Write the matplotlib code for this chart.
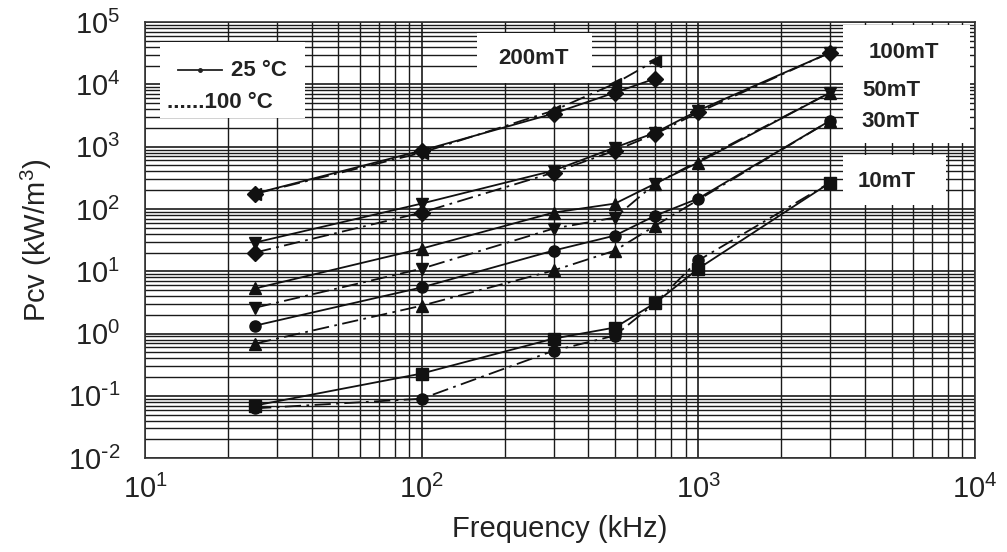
import matplotlib
matplotlib.use("Agg")
import matplotlib.pyplot as plt
from matplotlib.patches import Rectangle
from matplotlib.lines import Line2D
from matplotlib.ticker import FuncFormatter
import numpy as np

plt.rcParams['font.family'] = ['Liberation Sans', 'DejaVu Sans']
plt.rcParams['mathtext.default'] = 'regular'
plt.rcParams['axes.unicode_minus'] = False

# ---- data (frequency kHz, core loss kW/m^3) ----
freq_all = [25, 100, 300, 500, 700, 1000, 3000]
freq_200 = [25, 100, 300, 500, 700]
freq_hot = [25, 100, 300, 500, 700, 3000]

pcv_200_25 = [177, 865, 3400, 7400, 12400]
pcv_200_100 = [175, 800, 3800, 10300, 24100]

pcv_100_25 = [28.9, 122, 413, 968, 1680, 3800, 32400]
pcv_100_100 = [20, 87.5, 384, 865, 1600, 3540, 32400]

pcv_50_25 = [5.3, 23.1, 87.5, 122, 256, 556, 7380]
pcv_50_100 = [2.6, 11, 48.5, 72.8, 256, 7380]

pcv_30_25 = [1.34, 5.5, 21.5, 37.4, 78.3, 147, 2620]
pcv_30_100 = [0.69, 2.8, 10.3, 21.5, 54, 2620]

pcv_10_25 = [0.07, 0.228, 0.83, 1.25, 3.1, 11, 265]
pcv_10_100 = [0.063, 0.09, 0.53, 0.93, 3.1, 14.9, 265]

x_ticks = [10, 100, 1000, 10000]
y_ticks = [1e-2, 1e-1, 1e0, 1e1, 1e2, 1e3, 1e4, 1e5]


def pow_label(v, pos):
    e = int(round(np.log10(v)))
    if e < 0:
        return r'$10^{\text{-}%d}$' % (-e)
    return r'$10^{%d}$' % e


fig = plt.figure(figsize=(10.07, 5.52), dpi=100)
ax = fig.add_axes([0.144, 0.170, 0.824, 0.790])
ax.set_xscale('log')
ax.set_yscale('log')
ax.set_xlim(10, 10000)
ax.set_ylim(1e-2, 1e5)
ax.set_xticks(x_ticks)
ax.set_yticks(y_ticks)
ax.xaxis.set_major_formatter(FuncFormatter(pow_label))
ax.yaxis.set_major_formatter(FuncFormatter(pow_label))
ax.set_axisbelow(True)
ax.grid(True, which='major', color='#1a1a1a', linewidth=1.2)
ax.grid(True, which='minor', color='#1a1a1a', linewidth=1.0)
ax.tick_params(which='both', direction='in', length=0, labelsize=21, colors='#222222')
ax.tick_params(axis='y', pad=18)
ax.tick_params(axis='x', pad=12)
for s in ax.spines.values():
    s.set_color('#333333')
    s.set_linewidth(1.2)

# white label boxes
for (x0, y0, w, h) in [(0.018, 0.780, 0.175, 0.174),
                       (0.400, 0.860, 0.139, 0.115),
                       (0.841, 0.722, 0.153, 0.271),
                       (0.841, 0.580, 0.124, 0.115)]:
    ax.add_patch(Rectangle((x0, y0), w, h, transform=ax.transAxes,
                           facecolor='white', edgecolor='none', zorder=1))

solid = dict(color='#111111', linestyle='-', linewidth=1.3, markersize=8, zorder=3)
dashd = dict(color='#111111', linestyle=(0, (9, 3, 1.5, 3)), linewidth=1.3, markersize=8, zorder=3)

ax.plot(freq_200, pcv_200_25, marker='D', **solid)
ax.plot(freq_200, pcv_200_100, marker='<', **dashd)
ax.plot(freq_all, pcv_100_25, marker='v', **solid)
ax.plot(freq_all, pcv_100_100, marker='D', **dashd)
ax.plot(freq_all, pcv_50_25, marker='^', **solid)
ax.plot(freq_hot, pcv_50_100, marker='v', **dashd)
ax.plot(freq_all, pcv_30_25, marker='o', **solid)
ax.plot(freq_hot, pcv_30_100, marker='^', **dashd)
ax.plot(freq_all, pcv_10_25, marker='s', **solid)
ax.plot(freq_all, pcv_10_100, marker='o', **dashd)

# labels
lab = dict(transform=ax.transAxes, fontsize=16, fontweight='bold', color='#222222',
           va='center', zorder=4)
ax.text(0.468, 0.917, '200mT', ha='center', **lab)
ax.text(0.915, 0.931, '100mT', ha='center', **lab)
ax.text(0.864, 0.844, '50mT', ha='left', **lab)
ax.text(0.864, 0.771, '30mT', ha='left', **lab)
ax.text(0.859, 0.634, '10mT', ha='left', **lab)

# legend
ax.add_line(Line2D([0.040, 0.093], [0.889, 0.889], transform=ax.transAxes,
                   color='#222222', linewidth=1.3, zorder=4))
ax.plot([0.066], [0.889], transform=ax.transAxes, marker='o', markersize=2.5,
        color='#222222', zorder=4)
ax.text(0.104, 0.889, '25 °C', ha='left', **lab)
ax.text(0.026, 0.815, '......100 °C', ha='left', **lab)

ax.set_xlabel('Frequency (kHz)', fontsize=21, color='#222222', labelpad=8)
ax.set_ylabel('Pcv (kW/m$^3$)', fontsize=21, color='#222222', labelpad=10)

fig.savefig('out.png', dpi=100)
